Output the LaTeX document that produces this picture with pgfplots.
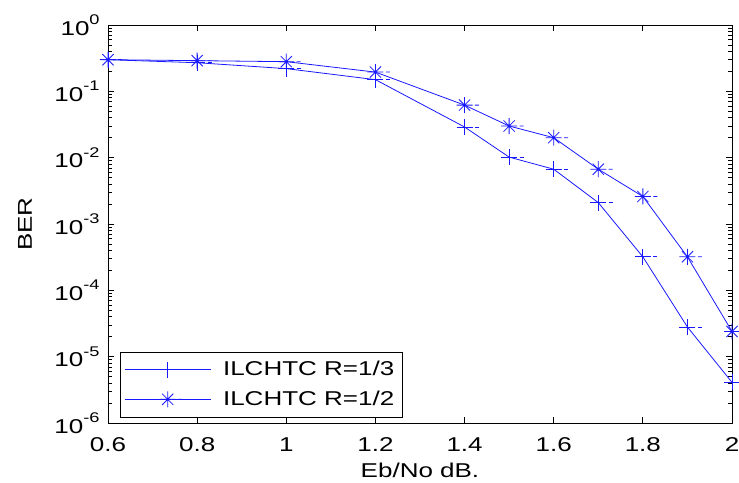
\documentclass[border=0pt]{standalone}
\usepackage{pgfplots}
\pgfplotsset{compat=1.18}
\usetikzlibrary{calc}
\usepackage{fontspec}
\setmainfont[FakeStretch=1.3]{Liberation Sans}
\definecolor{mblue}{rgb}{0.1,0.1,1}
\newcommand\ex[1]{10\raisebox{1.0ex}{\fontsize{7}{8}\selectfont #1}}
% plus mark with a small cap dash to the right, as in the original
\pgfdeclareplotmark{eplus}{%
  \pgfpathmoveto{\pgfqpoint{-\pgfplotmarksize}{0pt}}%
  \pgfpathlineto{\pgfqpoint{\pgfplotmarksize}{0pt}}%
  \pgfpathmoveto{\pgfqpoint{0pt}{-\pgfplotmarksize}}%
  \pgfpathlineto{\pgfqpoint{0pt}{\pgfplotmarksize}}%
  \pgfpathmoveto{\pgfqpoint{1.3\pgfplotmarksize}{0pt}}%
  \pgfpathlineto{\pgfqpoint{1.8\pgfplotmarksize}{0pt}}%
  \pgfusepathqstroke}
\pgfdeclareplotmark{estar}{%
  \pgfpathmoveto{\pgfqpoint{-\pgfplotmarksize}{0pt}}%
  \pgfpathlineto{\pgfqpoint{\pgfplotmarksize}{0pt}}%
  \pgfpathmoveto{\pgfqpoint{0pt}{-\pgfplotmarksize}}%
  \pgfpathlineto{\pgfqpoint{0pt}{\pgfplotmarksize}}%
  \pgfpathmoveto{\pgfqpoint{-0.7\pgfplotmarksize}{-0.7\pgfplotmarksize}}%
  \pgfpathlineto{\pgfqpoint{0.7\pgfplotmarksize}{0.7\pgfplotmarksize}}%
  \pgfpathmoveto{\pgfqpoint{-0.7\pgfplotmarksize}{0.7\pgfplotmarksize}}%
  \pgfpathlineto{\pgfqpoint{0.7\pgfplotmarksize}{-0.7\pgfplotmarksize}}%
  \pgfpathmoveto{\pgfqpoint{1.3\pgfplotmarksize}{0pt}}%
  \pgfpathlineto{\pgfqpoint{1.8\pgfplotmarksize}{0pt}}%
  \pgfusepathqstroke}
\begin{document}
\begin{tikzpicture}
  \begin{axis}[
      scale only axis,
      width=312pt, height=199pt,
      ymode=log,
      xmin=0.6, xmax=2,
      ymin=1e-6, ymax=1,
      xtick={0.6,0.8,1,1.2,1.4,1.6,1.8,2},
      xticklabels={0.6,0.8,1,1.2,1.4,1.6,1.8,2},
      ytick={1e-6,1e-5,1e-4,1e-3,1e-2,1e-1,1},
      yticklabels={\ex{-6},\ex{-5},\ex{-4},\ex{-3},\ex{-2},\ex{-1},\ex{0}},
      ticklabel style={font=\fontsize{10}{12}\selectfont},
      xticklabel style={anchor=center, yshift=-11pt},
      yticklabel style={anchor=east, inner sep=0pt, xshift=-4pt},
      label style={font=\fontsize{10}{12}\selectfont},
      xlabel={Eb/No dB.},
      ylabel={BER},
      every axis x label/.style={at={(axis description cs:0.5,0)}, yshift=-23.5pt, anchor=center},
      every axis y label/.style={at={(axis description cs:0,0.5)}, xshift=-41.5pt, rotate=90, anchor=center},
      tick style={black, thin},
      major tick length=3pt, minor tick length=1.8pt,
      axis line style={black, thin},
      legend style={at={(0.019,0.014)}, anchor=south west, draw=black, thin,
        font=\fontsize{10}{12}\selectfont, inner xsep=2pt, inner ysep=2.5pt,
        row sep=2pt, cells={anchor=west}},
      legend image code/.code={
        \draw[mark repeat=2, mark phase=2, #1] plot coordinates {(10pt,0pt) (31.5pt,0pt) (53pt,0pt)};
      },
    ]
    \coordinate (tl) at (rel axis cs:0,1);
    \coordinate (br) at (rel axis cs:1,0);
    % R = 1/3
    \addplot[color=mblue, thin, mark=eplus, mark size=4pt, mark options={solid, mblue}] coordinates {
      (0.6,0.30) (0.8,0.27) (1.0,0.22) (1.2,0.15) (1.4,0.029) (1.5,0.0102)
      (1.6,0.0067) (1.7,0.0021) (1.8,3.2e-4) (1.9,2.8e-5) (2.0,4.1e-6)
    };
    \addlegendentry{\hspace{4pt}ILCHTC R=1/3\hspace{5pt}}
    % R = 1/2
    \addplot[color=mblue, thin, mark=estar, mark size=4pt, mark options={solid, mblue}] coordinates {
      (0.6,0.30) (0.8,0.29) (1.0,0.28) (1.2,0.195) (1.4,0.062) (1.5,0.030)
      (1.6,0.020) (1.7,0.0067) (1.8,2.6e-3) (1.9,3.2e-4) (2.0,2.4e-5)
    };
    \addlegendentry{\hspace{4pt}ILCHTC R=1/2\hspace{5pt}}
  \end{axis}
  % page as in the original: room round the frame, marks at x=2 cut at the edge
  \pgfresetboundingbox
  \path[use as bounding box] ($(tl)+(-54pt,12.5pt)$) rectangle ($(br)+(3.5pt,-29.5pt)$);
\end{tikzpicture}
\end{document}
